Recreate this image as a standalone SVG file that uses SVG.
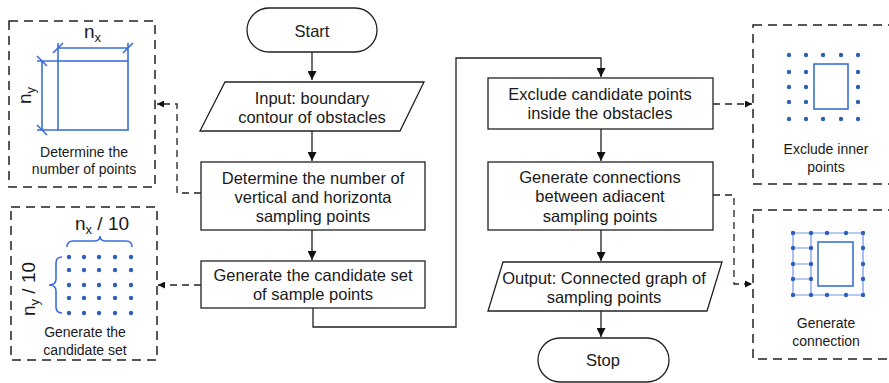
<svg xmlns="http://www.w3.org/2000/svg" width="889" height="383" viewBox="0 0 889 383">
<defs>
<marker id="ah" viewBox="0 0 10 10" refX="10" refY="5" markerWidth="9" markerHeight="9" markerUnits="userSpaceOnUse" orient="auto"><path d="M0,0 L10,5 L0,10 Z" fill="#111"/></marker>
<marker id="ahs" viewBox="0 0 10 10" refX="10" refY="5" markerWidth="7" markerHeight="7" markerUnits="userSpaceOnUse" orient="auto"><path d="M0,0 L10,5 L0,10 Z" fill="#111"/></marker>
</defs>
<style>
.box{fill:#fff;stroke:#222;stroke-width:1.3}
.t{font-family:"Liberation Sans",Arial,sans-serif;font-size:16.5px;fill:#1a1a1a;text-anchor:middle}
.s{font-family:"Liberation Sans",Arial,sans-serif;font-size:14px;fill:#1a1a1a;text-anchor:middle}
.lab{font-family:"Liberation Sans",Arial,sans-serif;font-size:19px;fill:#1a1a1a}
.sub{font-size:13px}
.dash{fill:none;stroke:#222;stroke-width:1.5;stroke-dasharray:9,6}
.flow{fill:none;stroke:#222;stroke-width:1.3}
.dflow{fill:none;stroke:#222;stroke-width:1.3;stroke-dasharray:7,5}
.blue{fill:none;stroke:#3a6fd8;stroke-width:1.6}
.bl{fill:none;stroke:#6f95e6;stroke-width:1.2}
.dot{fill:#2f5fb8}
</style>

<g id="connectors">
<path class="flow" d="M312,52 V80" marker-end="url(#ah)"/>
<path class="flow" d="M312,131 V161" marker-end="url(#ah)"/>
<path class="flow" d="M312,230 V260" marker-end="url(#ah)"/>
<path class="flow" d="M313,308 V327 H456 V58 H601 V77" marker-end="url(#ah)"/>
<path class="flow" d="M601,129 V161" marker-end="url(#ah)"/>
<path class="flow" d="M601,230 V261" marker-end="url(#ah)"/>
<path class="flow" d="M601,311 V337" marker-end="url(#ah)"/>
<path class="dflow" d="M201,193 H177 V104 H157" marker-end="url(#ahs)"/>
<path class="dflow" d="M201,285 H158" marker-end="url(#ahs)"/>
<path class="dflow" d="M713,104 H752" marker-end="url(#ahs)"/>
<path class="dflow" d="M713,195 H734 V284 H752" marker-end="url(#ahs)"/>
</g>

<g id="start">
<rect class="box" x="247" y="8" width="130" height="44" rx="22"/>
<text class="t" x="312" y="37">Start</text>
</g>
<g id="input">
<polygon class="box" points="225,82 424,82 400,131 200,131"/>
<text class="t" x="312" y="104">Input: boundary</text>
<text class="t" x="312" y="123">contour of obstacles</text>
</g>
<g id="determine">
<rect class="box" x="201" y="162" width="224" height="68"/>
<text class="t" x="313" y="184">Determine the number of</text>
<text class="t" x="313" y="203">vertical and horizonta</text>
<text class="t" x="313" y="222">sampling points</text>
</g>
<g id="generate-set">
<rect class="box" x="201" y="261" width="224" height="47"/>
<text class="t" x="313" y="281">Generate the candidate set</text>
<text class="t" x="313" y="300">of sample points</text>
</g>
<g id="exclude">
<rect class="box" x="488" y="78" width="225" height="51"/>
<text class="t" x="600" y="100">Exclude candidate points</text>
<text class="t" x="600" y="119">inside the obstacles</text>
</g>
<g id="connections">
<rect class="box" x="488" y="162" width="225" height="68"/>
<text class="t" x="600" y="183">Generate connections</text>
<text class="t" x="600" y="202">between adiacent</text>
<text class="t" x="600" y="222">sampling points</text>
</g>
<g id="output">
<polygon class="box" points="503,262 722,262 707,311 488,311"/>
<text class="t" x="604" y="284">Output: Connected graph of</text>
<text class="t" x="604" y="303">sampling points</text>
</g>
<g id="stop">
<rect class="box" x="538" y="338" width="131" height="44" rx="22"/>
<text class="t" x="603" y="366">Stop</text>
</g>

<g id="panel-determine">
<rect class="dash" x="9" y="21" width="146" height="166"/>
<rect class="blue" x="58" y="61" width="70" height="69"/>
<path class="blue" d="M58,61 V43 M128,61 V43 M58,48 H128 M53,53 L63,43 M123,53 L133,43"/>
<path class="blue" d="M58,61 H37 M58,130 H37 M42,61 V130 M37,56 L47,66 M37,125 L47,135"/>
<text class="lab" x="84" y="38">n<tspan class="sub" dy="4">x</tspan></text>
<text class="lab" transform="translate(31,104) rotate(-90)">n<tspan class="sub" dy="4">y</tspan></text>
<text class="s" x="84" y="157">Determine the</text>
<text class="s" x="84" y="174">number of points</text>
</g>

<g id="panel-candidate">
<rect class="dash" x="11" y="207" width="146" height="153"/>
<path class="blue" d="M67,247 Q67,241 73,241 H94 Q100,241 100,236 Q100,241 106,241 H126 Q132,241 132,247"/>
<path class="blue" d="M62,257 Q56,257 56,263 V279 Q56,285 49,285 Q56,285 56,291 V307 Q56,313 62,313"/>
<text class="lab" x="75" y="230">n<tspan class="sub" dy="4">x</tspan><tspan dy="-4"> / 10</tspan></text>
<text class="lab" transform="translate(35,316) rotate(-90)">n<tspan class="sub" dy="4">y</tspan><tspan dy="-4"> / 10</tspan></text>
<g class="dot">
<circle cx="69" cy="257" r="2.2"/><circle cx="84" cy="257" r="2.2"/><circle cx="99" cy="257" r="2.2"/><circle cx="115" cy="257" r="2.2"/><circle cx="131" cy="257" r="2.2"/>
<circle cx="69" cy="270" r="2.2"/><circle cx="84" cy="270" r="2.2"/><circle cx="99" cy="270" r="2.2"/><circle cx="115" cy="270" r="2.2"/><circle cx="131" cy="270" r="2.2"/>
<circle cx="69" cy="285" r="2.2"/><circle cx="84" cy="285" r="2.2"/><circle cx="99" cy="285" r="2.2"/><circle cx="115" cy="285" r="2.2"/><circle cx="131" cy="285" r="2.2"/>
<circle cx="69" cy="298" r="2.2"/><circle cx="84" cy="298" r="2.2"/><circle cx="99" cy="298" r="2.2"/><circle cx="115" cy="298" r="2.2"/><circle cx="131" cy="298" r="2.2"/>
<circle cx="69" cy="313" r="2.2"/><circle cx="84" cy="313" r="2.2"/><circle cx="99" cy="313" r="2.2"/><circle cx="115" cy="313" r="2.2"/><circle cx="131" cy="313" r="2.2"/>
</g>
<text class="s" x="85" y="337">Generate the</text>
<text class="s" x="85" y="355">candidate set</text>
</g>

<g id="panel-exclude">
<rect class="dash" x="753" y="25" width="150" height="159"/>
<rect class="blue" x="814" y="64" width="34" height="45"/>
<g class="dot">
<circle cx="789" cy="55" r="2.2"/><circle cx="806" cy="55" r="2.2"/><circle cx="823" cy="55" r="2.2"/><circle cx="841" cy="55" r="2.2"/><circle cx="858" cy="55" r="2.2"/>
<circle cx="789" cy="72" r="2.2"/><circle cx="806" cy="72" r="2.2"/><circle cx="858" cy="72" r="2.2"/>
<circle cx="789" cy="87" r="2.2"/><circle cx="806" cy="87" r="2.2"/><circle cx="858" cy="87" r="2.2"/>
<circle cx="789" cy="102" r="2.2"/><circle cx="806" cy="102" r="2.2"/><circle cx="858" cy="102" r="2.2"/>
<circle cx="789" cy="119" r="2.2"/><circle cx="806" cy="119" r="2.2"/><circle cx="823" cy="119" r="2.2"/><circle cx="841" cy="119" r="2.2"/><circle cx="858" cy="119" r="2.2"/>
</g>
<text class="s" x="826" y="154">Exclude inner</text>
<text class="s" x="826" y="172">points</text>
</g>

<g id="panel-connection">
<rect class="dash" x="753" y="210" width="150" height="149"/>
<path class="bl" d="M793,233 H863 M793,295 H863 M793,233 V295 M811,233 V295 M863,233 V295 M793,248 H811 M793,264 H811 M793,279 H811"/>
<rect class="blue" x="818" y="242" width="35" height="44"/>
<g class="dot">
<circle cx="793" cy="233" r="2.2"/><circle cx="811" cy="233" r="2.2"/><circle cx="827" cy="233" r="2.2"/><circle cx="846" cy="233" r="2.2"/><circle cx="863" cy="233" r="2.2"/>
<circle cx="793" cy="248" r="2.2"/><circle cx="811" cy="248" r="2.2"/><circle cx="863" cy="248" r="2.2"/>
<circle cx="793" cy="264" r="2.2"/><circle cx="811" cy="264" r="2.2"/><circle cx="863" cy="264" r="2.2"/>
<circle cx="793" cy="279" r="2.2"/><circle cx="811" cy="279" r="2.2"/><circle cx="863" cy="279" r="2.2"/>
<circle cx="793" cy="295" r="2.2"/><circle cx="811" cy="295" r="2.2"/><circle cx="827" cy="295" r="2.2"/><circle cx="846" cy="295" r="2.2"/><circle cx="863" cy="295" r="2.2"/>
</g>
<text class="s" x="826" y="328">Generate</text>
<text class="s" x="826" y="346">connection</text>
</g>
</svg>
